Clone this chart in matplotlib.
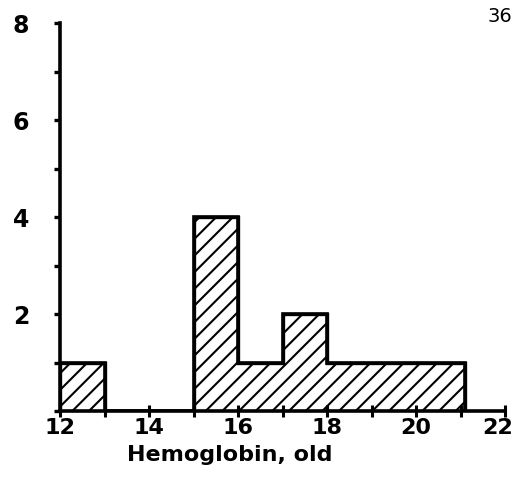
import numpy as np
import matplotlib.pyplot as plt
import matplotlib.transforms as mtransforms

# bin edges and counts
bin_edges = [12, 13, 14, 15, 16, 17, 18, 19, 20, 21.1]
counts = [1, 0, 0, 4, 1, 2, 1, 1, 1]
x_ticks = [12, 13, 14, 15, 16, 17, 18, 19, 20, 21, 22]
x_labels = ['12', '', '14', '', '16', '', '18', '', '20', '', '22']
y_ticks = [0, 1, 2, 3, 4, 5, 6, 7, 8]
y_labels = ['', '', '2', '', '4', '', '6', '', '8']


def main():
    plt.rcParams['hatch.linewidth'] = 1.5
    fig = plt.figure(figsize=(5.18, 4.85), dpi=100)
    ax = fig.add_axes([60 / 518, 1 - 412 / 485, 445 / 518, 388 / 485])

    ax.stairs(counts, bin_edges, fill=True, facecolor='white',
              edgecolor='black', linewidth=2.4, hatch='//')
    ax.stairs(counts, bin_edges, fill=False, color='black', linewidth=2.6)

    ax.set_xlim(12, 22)
    ax.set_ylim(0, 8)
    for s in ['top', 'right']:
        ax.spines[s].set_visible(False)
    for s in ['left', 'bottom']:
        ax.spines[s].set_linewidth(2.6)

    ax.set_xticks(x_ticks)
    ax.set_xticklabels(x_labels, fontsize=16, fontweight='bold')
    ax.set_yticks(y_ticks)
    ax.set_yticklabels(y_labels, fontsize=17, fontweight='bold')
    ax.tick_params(axis='x', direction='inout', length=9, width=2.2, pad=0)
    ax.tick_params(axis='y', direction='out', length=4, width=2.4, pad=18)

    # pull the last x label in a little so it stays on the page
    last = ax.get_xticklabels()[-1]
    last.set_transform(last.get_transform() +
                       mtransforms.ScaledTranslation(-7 / 100, 0, fig.dpi_scale_trans))

    fig.text(230 / 518, 1 - 455 / 485, 'Hemoglobin, old', fontsize=16,
             fontweight='bold', ha='center', va='center')
    fig.text(500 / 518, 1 - 17 / 485, '36', fontsize=14, ha='center', va='center')

    fig.savefig('out.png', facecolor='white')


if __name__ == '__main__':
    main()
